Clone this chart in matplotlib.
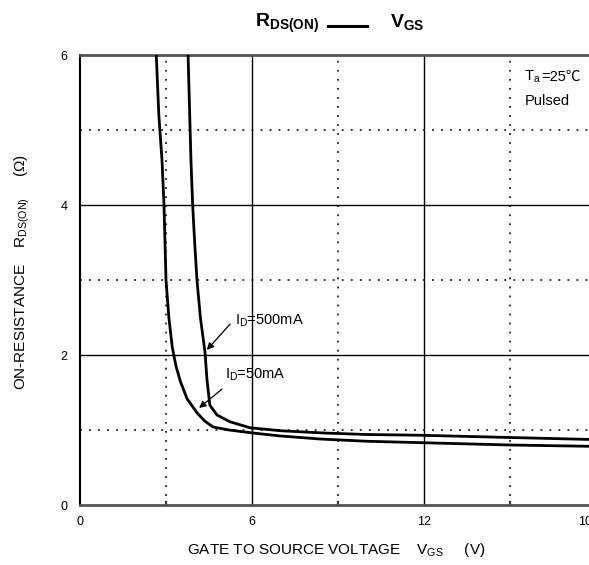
import matplotlib
matplotlib.use("Agg")
import matplotlib.pyplot as plt
from matplotlib.lines import Line2D
from matplotlib.transforms import ScaledTranslation

plt.rcParams['font.family'] = ['Liberation Sans', 'Noto Sans CJK SC', 'DejaVu Sans']
plt.rcParams['mathtext.fontset'] = 'custom'
plt.rcParams['mathtext.rm'] = 'Liberation Sans'
plt.rcParams['mathtext.it'] = 'Liberation Sans'
plt.rcParams['mathtext.bf'] = 'Liberation Sans:bold'

# ---- data ----
vgs_50 = [2.65, 2.75, 2.86, 2.93, 3.00, 3.10, 3.22, 3.35, 3.50, 3.73, 4.08, 4.35, 4.64,
          5.2, 6.03, 7.0, 8.37, 10.0, 12.0, 15.0, 18.2]
rds_50 = [6.10, 5.20, 4.60, 4.00, 3.00, 2.50, 2.10, 1.85, 1.65, 1.42, 1.23, 1.12, 1.04,
          1.00, 0.96, 0.92, 0.88, 0.85, 0.83, 0.80, 0.78]

vgs_500 = [3.77, 3.82, 3.87, 3.93, 4.00, 4.08, 4.20, 4.36, 4.43, 4.53, 4.78, 5.23, 5.93,
           7.0, 8.5, 10.0, 11.86, 15.0, 18.2]
rds_500 = [6.00, 5.30, 4.60, 4.00, 3.50, 3.00, 2.50, 2.04, 1.67, 1.33, 1.20, 1.11, 1.03,
           0.99, 0.96, 0.94, 0.93, 0.90, 0.87]

xticks = [0, 6, 12, 18]
xtick_labels = ['0', '6', '12', '10']
yticks = [0, 2, 4, 6]
ytick_labels = ['0', '2', '4', '6']
x_major_grid = [6, 12]
x_minor_grid = [3, 9, 15]
y_major_grid = [2, 4]
y_minor_grid = [1, 3, 5]

fig = plt.figure(figsize=(5.89, 5.65), dpi=100)
W, H = 589, 565
ax = fig.add_axes([80 / W, 60 / H, (596 - 80) / W, 450 / H])
ax.set_xlim(0, 18)
ax.set_ylim(0, 6)

for x in x_major_grid:
    ax.axvline(x, color='black', lw=1.0, zorder=1)
for y in y_major_grid:
    ax.axhline(y, color='black', lw=1.0, zorder=1)
for x in x_minor_grid:
    ax.axvline(x, color='#222222', lw=1.3, ls=(0, (1, 4)), zorder=1)
for y in y_minor_grid:
    ax.axhline(y, color='#222222', lw=1.3, ls=(0, (1, 4)), zorder=1)

ax.plot(vgs_50, rds_50, color='black', lw=2.0, zorder=3, solid_capstyle='butt', solid_joinstyle='round')
ax.plot(vgs_500, rds_500, color='black', lw=2.0, zorder=3, solid_capstyle='butt', solid_joinstyle='round')

for s in ['top', 'bottom']:
    ax.spines[s].set_color('#555555')
    ax.spines[s].set_linewidth(2.0)
ax.spines['left'].set_color('black')
ax.spines['left'].set_linewidth(1.5)
ax.spines['right'].set_visible(False)

ax.set_xticks(xticks)
ax.set_xticklabels(xtick_labels)
ax.set_yticks(yticks)
ax.set_yticklabels(ytick_labels)
ax.set_xticks(x_minor_grid, minor=True)
ax.tick_params(axis='both', which='major', length=0, labelsize=9, pad=8)
ax.tick_params(axis='x', which='minor', direction='in', length=3, width=1.5, color='#333333')
ax.tick_params(axis='y', pad=9)
lbl = ax.get_xticklabels()[-1]
lbl.set_transform(lbl.get_transform() + ScaledTranslation(-11 / 100, 0, fig.dpi_scale_trans))

# annotations
ax.annotate('', xy=(4.36, 2.04), xytext=(5.3, 2.44),
            arrowprops=dict(arrowstyle='-|>', color='black', lw=0.9, mutation_scale=10))
ax.text(5.4, 2.35, r'$\mathrm{I_D}$=500mA', fontsize=10.5, va='bottom', ha='left')
ax.annotate('', xy=(4.08, 1.27), xytext=(5.03, 1.57),
            arrowprops=dict(arrowstyle='-|>', color='black', lw=0.9, mutation_scale=10))
ax.text(5.05, 1.63, r'$\mathrm{I_D}$=50mA', fontsize=10.5, va='bottom', ha='left')

ax.text(15.5, 5.66, r'$\mathrm{T_a}$', fontsize=10.5, va='baseline', ha='left')
ax.text(16.1, 5.66, '=25℃', fontsize=10.5, va='baseline', ha='left')
ax.text(15.5, 5.33, 'Pulsed', fontsize=10.5, va='baseline', ha='left')

# title
fig.text(255 / W, 1 - 27 / H, r'$\mathbf{R_{DS(ON)}}$', fontsize=14, ha='left', va='baseline')
fig.add_artist(Line2D([328 / W, 367 / W], [1 - 26 / H, 1 - 26 / H], color='black', lw=2.2))
fig.text(390 / W, 1 - 27 / H, r'$\mathbf{V_{GS}}$', fontsize=14, ha='left', va='baseline')

# axis labels
fig.text(336 / W, 1 - 550 / H, r'GATE TO SOURCE VOLTAGE    $\mathrm{V_{GS}}$     (V)',
         fontsize=11, ha='center', va='center')
fig.text(22 / W, 1 - 272 / H, r'ON-RESISTANCE    $\mathrm{R_{DS(ON)}}$     (Ω)',
         fontsize=11, ha='center', va='center', rotation=90)

fig.savefig('out.png', dpi=100)
